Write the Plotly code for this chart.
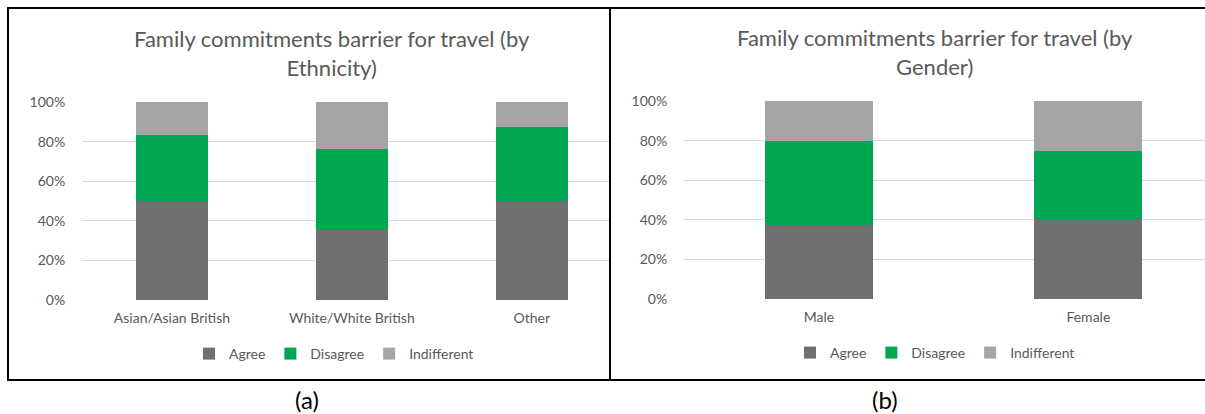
import plotly.graph_objects as go

# ---- data (percent of respondents) ----
ethnicity = ["Asian/Asian British", "White/White British", "Other"]
eth_agree = [50.0, 35.3, 50.0]
eth_disagree = [33.3, 41.2, 37.5]
eth_indifferent = [16.7, 23.5, 12.5]

gender = ["Male", "Female"]
gen_agree = [37.3, 40.6]
gen_disagree = [42.7, 34.4]
gen_indifferent = [20.0, 25.0]

series_names = ["Agree", "Disagree", "Indifferent"]
series_colors = ["#707070", "#00A651", "#A5A5A5"]

title_a = "Family commitments barrier for travel (by<br>Ethnicity)"
title_b = "Family commitments barrier for travel (by<br>Gender)"

W, H = 1205, 414
FONT = "Lato"
TEXT = "#595959"


def px(x):
    return x / W


def py(y):
    return 1 - y / H


fig = go.Figure()

for name, color, vals in zip(series_names, series_colors,
                             [eth_agree, eth_disagree, eth_indifferent]):
    fig.add_trace(go.Bar(x=ethnicity, y=vals, name=name, marker_color=color,
                         marker_line_width=0, xaxis="x", yaxis="y",
                         legend="legend", width=0.4))

for name, color, vals in zip(series_names, series_colors,
                             [gen_agree, gen_disagree, gen_indifferent]):
    fig.add_trace(go.Bar(x=gender, y=vals, name=name, marker_color=color,
                         marker_line_width=0, xaxis="x2", yaxis="y2",
                         legend="legend2", width=0.4))

yaxis_common = dict(range=[0, 100], dtick=20, ticksuffix="%", showgrid=True,
                    gridcolor="#D9D9D9", gridwidth=1, zeroline=False,
                    showline=False, ticks="outside", ticklen=13,
                    tickcolor="rgba(0,0,0,0)",
                    tickfont=dict(family=FONT, size=14, color=TEXT))
xaxis_common = dict(type="category", showgrid=False, zeroline=False,
                    showline=False, ticks="outside", ticklen=5,
                    tickcolor="rgba(0,0,0,0)",
                    tickfont=dict(family=FONT, size=14, color=TEXT))

legend_common = dict(orientation="h", xanchor="center", yanchor="middle",
                     traceorder="normal", itemwidth=30,
                     font=dict(family=FONT, size=14, color=TEXT),
                     bgcolor="rgba(0,0,0,0)")

fig.update_layout(
    width=W, height=H,
    margin=dict(l=0, r=0, t=0, b=0, autoexpand=False),
    paper_bgcolor="white", plot_bgcolor="white",
    barmode="stack",
    xaxis=dict(domain=[px(82), px(610)], range=[-0.5, 2.435], anchor="y",
               **xaxis_common),
    yaxis=dict(domain=[py(300), py(102)], anchor="x", **yaxis_common),
    xaxis2=dict(domain=[px(684), 1.0], range=[-0.501, 1.433], anchor="y2",
                **xaxis_common),
    yaxis2=dict(domain=[py(299), py(101)], anchor="x2", **yaxis_common),
    legend=dict(x=px(334), y=py(354), **legend_common),
    legend2=dict(x=px(935), y=py(353), **legend_common),
    showlegend=True,
)

# chart titles
fig.add_annotation(text=title_a, x=px(332), y=py(53), xref="paper", yref="paper",
                   showarrow=False, xanchor="center", yanchor="middle",
                   font=dict(family=FONT, size=22, color=TEXT))
fig.add_annotation(text=title_b, x=px(935), y=py(52), xref="paper", yref="paper",
                   showarrow=False, xanchor="center", yanchor="middle",
                   font=dict(family=FONT, size=22, color=TEXT))

# panel captions
fig.add_annotation(text="(a)", x=px(307), y=py(399), xref="paper", yref="paper",
                   showarrow=False, xanchor="center", yanchor="middle",
                   font=dict(family=FONT, size=24, color="black"))
fig.add_annotation(text="(b)", x=px(885), y=py(399), xref="paper", yref="paper",
                   showarrow=False, xanchor="center", yanchor="middle",
                   font=dict(family=FONT, size=24, color="black"))

# panel frames
frame = dict(type="line", xref="paper", yref="paper",
             line=dict(color="black", width=2))
fig.add_shape(x0=px(7), x1=1.0, y0=py(8), y1=py(8), **frame)
fig.add_shape(x0=px(7), x1=1.0, y0=py(380), y1=py(380), **frame)
fig.add_shape(x0=px(8), x1=px(8), y0=py(7), y1=py(381), **frame)
fig.add_shape(x0=px(610), x1=px(610), y0=py(7), y1=py(381), **frame)

fig.write_html("out.html")
